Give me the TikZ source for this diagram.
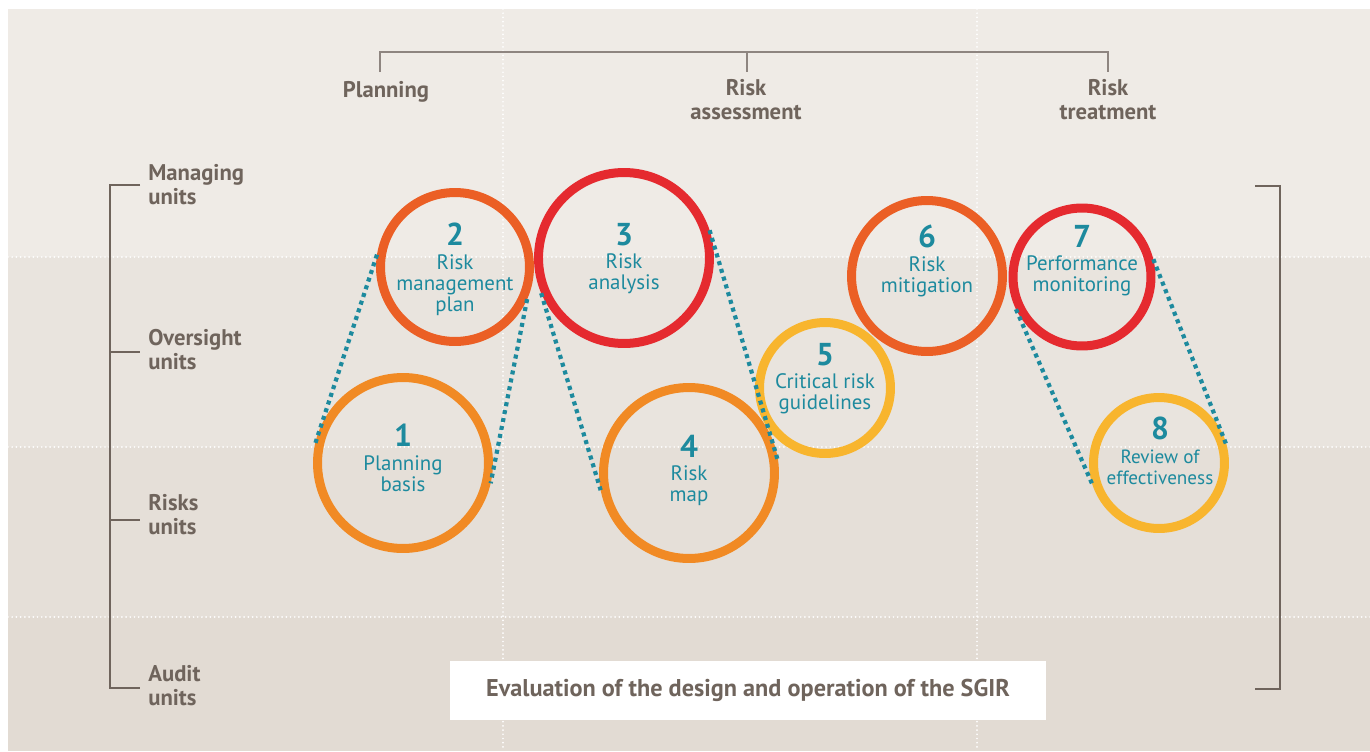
\documentclass[tikz,border=0pt]{standalone}
\usepackage{fontspec}
\setmainfont{PT Sans}
\usetikzlibrary{positioning}
\definecolor{bandone}{HTML}{EFEBE6}
\definecolor{bandtwo}{HTML}{E9E4DE}
\definecolor{bandthree}{HTML}{E5DFD8}
\definecolor{bandfour}{HTML}{E2DBD3}
\definecolor{unitgray}{HTML}{6F645C}
\definecolor{bracketgray}{HTML}{8E8580}
\definecolor{tealtext}{HTML}{1D8A9E}
\definecolor{ringorange}{HTML}{F18A24}
\definecolor{ringrust}{HTML}{EB5F25}
\definecolor{ringred}{HTML}{E52A2F}
\definecolor{ringyellow}{HTML}{F8B52E}
\newcommand{\ringnum}[1]{{\fontsize{18}{18}\selectfont\bfseries #1}\\[1.2pt]}

\begin{document}
\begin{tikzpicture}[
  x=0.02cm, y=-0.02cm,
  ring/.style={circle, draw, line width=0.18cm, inner sep=0pt},
  ringtext/.style={text=tealtext, align=center, inner sep=0pt, anchor=north,
    font=\fontsize{11.9}{12}\selectfont},
  unitlabel/.style={text=unitgray, align=left, inner sep=0pt, anchor=west,
    font=\fontsize{12.9}{13.6}\selectfont\bfseries},
  phaselabel/.style={text=unitgray, align=center, inner sep=0pt,
    font=\fontsize{12.9}{13.6}\selectfont\bfseries},
  bracketline/.style={draw=unitgray, line width=0.7pt},
  gridline/.style={draw=white, line width=1.1pt, line cap=round,
    dash pattern=on 0pt off 2.4pt},
  zoomline/.style={draw=tealtext, line width=2.4pt, dash pattern=on 2.3pt off 2.3pt}
]
  \useasboundingbox (0,0) rectangle (1370,751);
  % Fondo en bandas.
  \fill[bandone] (8,9) rectangle (1370,257);
  \fill[bandtwo] (8,257) rectangle (1370,447);
  \fill[bandthree] (8,447) rectangle (1370,617);
  \fill[bandfour] (8,617) rectangle (1370,751);
  \draw[gridline] (8,257) -- (1370,257);
  \draw[gridline] (8,447) -- (1370,447);
  \draw[gridline] (8,617) -- (1370,617);
  \draw[gridline] (503,9) -- (503,751);
  \draw[gridline] (977,9) -- (977,751);

  % Fases del proceso.
  \draw[bracketline, draw=bracketgray] (380,72) -- (380,52) -- (1108,52) -- (1108,72);
  \draw[bracketline, draw=bracketgray] (747,52) -- (747,72);
  \node[phaselabel] (planning) at (386,92) {Planning};
  \node[phaselabel] (assessment) at (746,100) {Risk\\assessment};
  \node[phaselabel] (treatment) at (1108,100) {Risk\\treatment};

  % Unidades.
  \draw[bracketline] (140,185) -- (110,185) -- (110,688) -- (140,688);
  \draw[bracketline] (110,352) -- (140,352);
  \draw[bracketline] (110,520) -- (140,520);
  \node[unitlabel] (managing) at (148,185) {Managing\\units};
  \node[unitlabel] (oversight) at (148,350) {Oversight\\units};
  \node[unitlabel] (risks) at (148,515) {Risks\\units};
  \node[unitlabel] (audit) at (148,686) {Audit\\units};
  \draw[bracketline] (1255,186) -- (1280,186) -- (1280,689) -- (1255,689);

  % Anillos.
  \node[ring, draw=ringorange, minimum size=3.42cm] (basis) at (403,463) {};
  \node[ring, draw=ringrust, minimum size=2.98cm] (plan) at (455,267) {};
  \node[ring, draw=ringred, minimum size=3.42cm] (analysis) at (624,258) {};
  \node[ring, draw=ringorange, minimum size=3.42cm] (map) at (689,473) {};
  \node[ring, draw=ringyellow, minimum size=2.62cm] (guidelines) at (825,388) {};
  \node[ring, draw=ringrust, minimum size=3.02cm] (mitigation) at (927,276) {};
  \node[ring, draw=ringred, minimum size=2.76cm] (monitoring) at (1082,277) {};
  \node[ring, draw=ringyellow, minimum size=2.62cm] (review) at (1159,463) {};

  % Textos de los anillos.
  \node[ringtext] (basistext) at (403,424) {\ringnum{1}Planning\\basis};
  \node[ringtext] (plantext) at (455,223) {\ringnum{2}Risk\\management\\plan};
  \node[ringtext] (analysistext) at (624,223) {\ringnum{3}Risk\\analysis};
  \node[ringtext] (maptext) at (689,435) {\ringnum{4}Risk\\map};
  \node[ringtext] (guidelinestext) at (825,343) {\ringnum{5}Critical risk\\guidelines};
  \node[ringtext] (mitigationtext) at (927,225) {\ringnum{6}Risk\\mitigation};
  \node[ringtext] (monitoringtext) at (1082,225) {\ringnum{7}Performance\\monitoring};
  \node[ringtext, font=\fontsize{10.9}{12}\selectfont] (reviewtext) at (1160,417)
    {\ringnum{8}Review of\\effectiveness};

  % Lineas de detalle.
  \draw[zoomline] (plan.171) -- (basis.168);
  \draw[zoomline] (plan.336) -- (basis.347);
  \draw[zoomline] (analysis.203) -- (map.191);
  \draw[zoomline] (analysis.18) -- (map.7);
  \draw[zoomline] (monitoring.206) -- (review.198);
  \draw[zoomline] (monitoring.14) -- (review.14);

  % Caja inferior.
  \node[fill=white, minimum width=11.92cm, minimum height=1.18cm, inner sep=0pt,
    text=unitgray, font=\fontsize{13.8}{14}\selectfont\bfseries] (evaluation) at (748,690)
    {Evaluation of the design and operation of the SGIR};
\end{tikzpicture}
\end{document}
